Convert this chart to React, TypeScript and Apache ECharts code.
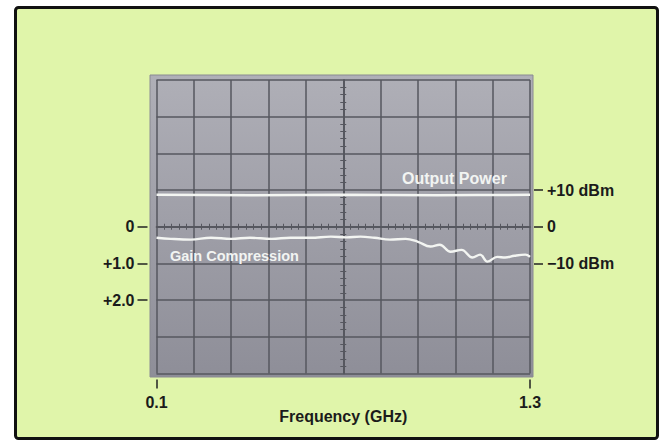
import React, { useEffect, useRef } from "react";
import * as echarts from "echarts";

// ---- data ----
const freqTicks = [0.1, 1.3]; // GHz
const gainTicks = [0, 1, 2]; // dB (left axis, downward)
const powerTicks = [10, 0, -10]; // dBm (right axis)

const gainFreq = [0.1, 0.146, 0.21, 0.275, 0.34, 0.4, 0.47, 0.53, 0.595, 0.66, 0.71, 0.755, 0.8, 0.85, 0.9, 0.94, 0.98, 1.01, 1.045, 1.08, 1.115, 1.14, 1.163, 1.195, 1.22, 1.25, 1.285, 1.3];
const gainDb = [0.3, 0.33, 0.35, 0.3, 0.33, 0.3, 0.33, 0.3, 0.3, 0.27, 0.29, 0.27, 0.3, 0.35, 0.33, 0.41, 0.54, 0.49, 0.68, 0.63, 0.84, 0.76, 0.95, 0.82, 0.84, 0.79, 0.76, 0.82];

const powerFreq = [0.1, 0.4, 0.7, 1.0, 1.3];
const powerDbm = [8.7, 8.6, 8.7, 8.6, 8.7];

const FONT = "'Liberation Sans', Arial, Helvetica, sans-serif";
const GRID_COLOR = "#56575f";
const TEXT_COLOR = "#1b1b1b";

export default function App() {
  const ref = useRef<HTMLDivElement>(null);
  useEffect(() => {
    if (!ref.current) return;
    const chart = echarts.init(ref.current, undefined, { renderer: "svg" });

    const divisionAxis = (min: number, max: number, inside: boolean, split: boolean, onZeroIdx: number) => ({
      type: "value",
      min,
      max,
      interval: 1,
      axisLine: { show: true, onZero: true, onZeroAxisIndex: onZeroIdx, lineStyle: { color: GRID_COLOR, width: 1.5 } },
      axisTick: { show: false, inside },
      minorTick: { show: true, splitNumber: 5, length: 3, lineStyle: { color: GRID_COLOR, width: 1 } },
      axisLabel: { show: false },
      splitLine: { show: split, lineStyle: { color: GRID_COLOR, width: 1.5 } },
    });

    const option: any = {
      animation: false,
      backgroundColor: "#ffffff",
      grid: { left: 156.5, top: 80, width: 373.5, height: 293.5, outerBoundsMode: "none", containLabel: false },
      graphic: [
        {
          type: "rect",
          z: -20,
          shape: { x: 15.5, y: 7.5, width: 642, height: 431, r: 3 },
          style: { fill: "#e0f5aa", stroke: "#111111", lineWidth: 3 },
        },
        {
          type: "rect",
          z: -10,
          shape: { x: 150, y: 75, width: 383, height: 302 },
          style: {
            fill: new echarts.graphic.LinearGradient(0, 0, 0, 1, [
              { offset: 0, color: "#afafb7" },
              { offset: 1, color: "#8e8e98" },
            ]),
            stroke: "#8a8a92",
            lineWidth: 1,
          },
        },
        {
          type: "text",
          z: 100,
          x: 402,
          y: 178,
          style: { text: "Output Power", fill: "#f2f4f2", font: `bold 16px ${FONT}`, verticalAlign: "middle" },
        },
        {
          type: "text",
          z: 100,
          x: 170,
          y: 256,
          style: { text: "Gain Compression", fill: "#f2f4f2", font: `bold 14.5px ${FONT}`, verticalAlign: "middle" },
        },
      ],
      xAxis: [
        {
          type: "value",
          min: 0.1,
          max: 1.3,
          offset: 6,
          position: "bottom",
          name: "Frequency (GHz)",
          nameLocation: "middle",
          nameGap: 29,
          nameMoveOverlap: false,
          nameTextStyle: { color: TEXT_COLOR, fontSize: 16, fontWeight: "bold", fontFamily: FONT },
          axisLine: { show: false, onZero: false },
          axisTick: { show: true, customValues: freqTicks, length: 9, lineStyle: { color: "#222", width: 1.5 } },
          axisLabel: {
            customValues: freqTicks,
            formatter: (v: number) => v.toFixed(1),
            color: TEXT_COLOR,
            fontSize: 16,
            fontWeight: "bold",
            fontFamily: FONT,
            margin: 15,
          },
          splitLine: { show: false },
        },
        divisionAxis(-5, 5, false, true, 2),
        divisionAxis(-5, 5, true, false, 2),
      ],
      yAxis: [
        {
          type: "value",
          min: -4,
          max: 4,
          inverse: true,
          position: "left",
          offset: 9,
          axisLine: { show: false, onZero: false },
          axisTick: { show: true, customValues: gainTicks, length: 10, lineStyle: { color: "#222", width: 1.5 } },
          axisLabel: {
            customValues: gainTicks,
            formatter: (v: number) => (v === 0 ? "0" : "+" + v.toFixed(1)),
            color: TEXT_COLOR,
            fontSize: 16,
            fontWeight: "bold",
            fontFamily: FONT,
            margin: 13,
          },
          splitLine: { show: false },
        },
        {
          type: "value",
          min: -40,
          max: 40,
          position: "right",
          offset: 4,
          axisLine: { show: false, onZero: false },
          axisTick: { show: true, customValues: powerTicks, length: 9, lineStyle: { color: "#222", width: 1.5 } },
          axisLabel: {
            customValues: powerTicks,
            formatter: (v: number) => (v === 0 ? "0" : v > 0 ? `+${v} dBm` : `\u2212${Math.abs(v)} dBm`),
            color: TEXT_COLOR,
            fontSize: 16,
            fontWeight: "bold",
            fontFamily: FONT,
            margin: 13,
          },
          splitLine: { show: false },
        },
        divisionAxis(-4, 4, false, true, 1),
        divisionAxis(-4, 4, true, false, 1),
      ],
      series: [
        {
          name: "Output Power",
          type: "line",
          xAxisIndex: 0,
          yAxisIndex: 1,
          data: powerFreq.map((f, i) => [f, powerDbm[i]]),
          showSymbol: false,
          symbol: "none",
          smooth: 0.3,
          lineStyle: { color: "#f3f5f2", width: 2.5 },
          z: 5,
        },
        {
          name: "Gain Compression",
          type: "line",
          xAxisIndex: 0,
          yAxisIndex: 0,
          data: gainFreq.map((f, i) => [f, gainDb[i]]),
          showSymbol: false,
          symbol: "none",
          smooth: 0.4,
          lineStyle: { color: "#f3f5f2", width: 2.4 },
          z: 5,
        },
      ],
    };

    chart.setOption(option);
    return () => chart.dispose();
  }, []);

  return <div ref={ref} style={{ position: "absolute", left: 0, top: 0, width: 661, height: 440 }} />;
}
